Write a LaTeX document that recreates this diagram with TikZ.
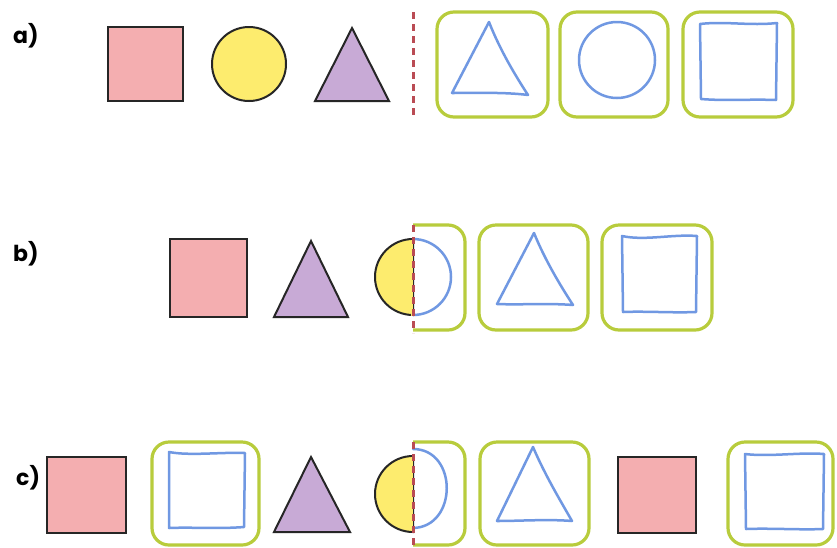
\documentclass[tikz,border=0pt]{standalone}
\usepackage{fontspec}
\setsansfont{Poppins}
\definecolor{pinkf}{RGB}{244,174,176}
\definecolor{yellowf}{RGB}{253,236,110}
\definecolor{purplef}{RGB}{200,170,214}
\definecolor{blueln}{RGB}{112,152,226}
\definecolor{greenln}{RGB}{184,204,60}
\definecolor{redln}{RGB}{186,76,84}
\begin{document}
\begin{tikzpicture}[x=1pt,y=-1pt,
  solid shape/.style={draw=black!85, line width=2pt, line join=miter},
  sketch/.style={draw=blueln, line width=2.5pt, line join=round, line cap=round},
  card/.style={draw=greenln, line width=3.2pt, rounded corners=17pt},
  cut/.style={draw=redln, line width=3pt, dash pattern=on 7pt off 5pt},
  lbl/.style={font=\sffamily\bfseries\fontsize{22}{26}\selectfont, anchor=base west, inner sep=0pt}]
\useasboundingbox (0,0) rectangle (837,547);
\fill[white] (0,0) rectangle (837,547);

% ---------- row a ----------
\node[lbl] (la) at (13,43) {a)};
\path[solid shape, fill=pinkf] (108,27) rectangle (183,101);
\path[solid shape, fill=yellowf] (249,64) circle (37);
\path[solid shape, fill=purplef] (315,101) -- (352,28) -- (389,101) -- cycle;
\draw[cut] (413,12) -- (413,118);
\path[card] (437,12) rectangle (548,117);
\path[card] (560,12) rectangle (668,117);
\path[card] (683,12) rectangle (793,117);
\path[sketch] (489,22) .. controls (500,50) and (515,75) .. (528,95) .. controls (505,92) and (475,93) .. (452,93) -- cycle;
\path[sketch] (617,60) circle (38);
\path[sketch] (700,24) .. controls (725,21) and (750,26) .. (777,23) -- (776,100) .. controls (750,99) and (725,101) .. (701,99) -- cycle;

% ---------- row b ----------
\node[lbl] (lb) at (13,261) {b)};
\path[solid shape, fill=pinkf] (170,239) rectangle (247,317);
\path[solid shape, fill=purplef] (274,317) -- (311,241) -- (348,317) -- cycle;
\path[solid shape, fill=yellowf] (413,239) arc[start angle=-90, end angle=-270, radius=38] -- cycle;
\fill[yellowf] (411,240) rectangle (413,316);
\draw[sketch] (413,239) arc[start angle=-90, end angle=90, radius=38];
\path[card] (413,225) -- (465,225) -- (465,330) -- (413,330);
\path[card] (479,225) rectangle (588,330);
\path[card] (602,225) rectangle (712,330);
\path[sketch] (534,233) .. controls (545,260) and (560,285) .. (573,305) .. controls (548,303) and (520,305) .. (497,304) -- cycle;
\path[sketch] (622,236) .. controls (645,241) and (672,234) .. (697,236) -- (696,312) .. controls (672,313) and (645,311) .. (623,312) -- cycle;
\draw[cut] (413,225) -- (413,333);

% ---------- row c ----------
\node[lbl] (lc) at (16,485) {c)};
\path[solid shape, fill=pinkf] (47,457) rectangle (126,533);
\path[card] (152,442) rectangle (259,545);
\path[sketch] (169,452) .. controls (190,456) and (220,452) .. (245,453) -- (244,527) .. controls (220,529) and (190,527) .. (169,528) -- cycle;
\path[solid shape, fill=purplef] (274,532) -- (311,457) -- (350,532) -- cycle;
\path[solid shape, fill=yellowf] (413,456) arc[start angle=-90, end angle=-270, radius=38] -- cycle;
\fill[yellowf] (411,457) rectangle (413,531);
\draw[sketch] (413,449) .. controls (458,449) and (458,527) .. (413,528);
\path[card] (413,442) -- (465,442) -- (465,545) -- (413,545);
\path[card] (480,442) rectangle (589,545);
\path[sketch] (533,447) .. controls (545,475) and (560,500) .. (572,521) .. controls (548,519) and (520,521) .. (497,521) -- cycle;
\path[solid shape, fill=pinkf] (618,457) rectangle (696,533);
\path[card] (728,442) rectangle (833,545);
\path[sketch] (745,454) .. controls (770,457) and (800,452) .. (824,454) -- (823,529) .. controls (800,530) and (770,528) .. (746,529) -- cycle;
\draw[cut] (413,442) -- (413,547);
\end{tikzpicture}
\end{document}
